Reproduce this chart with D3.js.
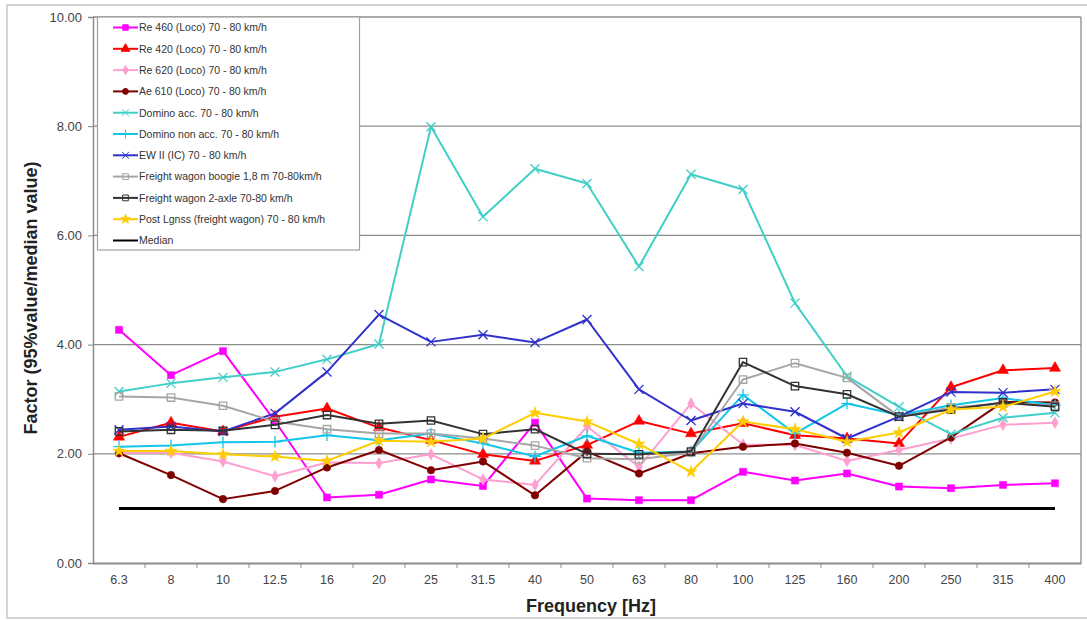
<!DOCTYPE html>
<html><head><meta charset="utf-8">
<script src="https://cdn.jsdelivr.net/npm/d3@7"></script>
<style>body{margin:0;background:#fff;}svg{display:block;font-family:"Liberation Sans",Arial,sans-serif;}</style>
</head><body><svg id="c" width="1087" height="621"></svg>
<script>
const categories = ["6.3","8","10","12.5","16","20","25","31.5","40","50","63","80","100","125","160","200","250","315","400"];
const yTicks = [0,2,4,6,8,10];
const re460   = [4.27,3.44,3.88,2.60,1.20,1.25,1.53,1.41,2.57,1.18,1.15,1.15,1.67,1.51,1.64,1.40,1.37,1.43,1.46];
const re420   = [2.31,2.57,2.41,2.68,2.83,2.48,2.25,1.99,1.87,2.16,2.60,2.37,2.56,2.34,2.28,2.19,3.22,3.53,3.57];
const re620   = [2.02,2.02,1.86,1.59,1.84,1.83,1.99,1.53,1.43,2.50,1.76,2.92,2.17,2.16,1.87,2.07,2.28,2.53,2.57];
const ae610   = [2.01,1.61,1.17,1.32,1.75,2.07,1.70,1.86,1.24,2.04,1.64,2.01,2.13,2.19,2.02,1.78,2.30,2.95,2.94];
const dominoAcc = [3.14,3.29,3.40,3.50,3.73,4.01,7.99,6.34,7.22,6.95,5.43,7.12,6.84,4.76,3.42,2.86,2.36,2.66,2.75];
const dominoNon = [2.13,2.15,2.21,2.22,2.34,2.25,2.37,2.19,1.95,2.33,2.02,2.04,3.08,2.37,2.92,2.71,2.89,3.02,2.89];
const ew2     = [2.44,2.50,2.41,2.74,3.50,4.55,4.05,4.18,4.04,4.46,3.18,2.61,2.92,2.77,2.28,2.68,3.13,3.12,3.18];
const boogie  = [3.05,3.03,2.88,2.59,2.45,2.37,2.37,2.28,2.15,1.92,1.90,2.02,3.36,3.66,3.39,2.68,2.85,2.92,2.88];
const twoAxle = [2.41,2.44,2.42,2.53,2.71,2.55,2.61,2.36,2.45,2.00,1.99,2.04,3.68,3.24,3.09,2.68,2.81,2.94,2.86];
const postLg  = [2.05,2.05,1.99,1.95,1.87,2.24,2.22,2.28,2.75,2.59,2.18,1.67,2.59,2.45,2.22,2.39,2.81,2.86,3.14];
const median  = categories.map(() => 1.00);

const seriesNames = ["Re 460 (Loco) 70 - 80 km/h","Re 420 (Loco) 70 - 80 km/h","Re 620 (Loco) 70 - 80 km/h","Ae 610 (Loco) 70 - 80 km/h","Domino acc. 70 - 80 km/h","Domino non acc. 70 - 80 km/h","EW II (IC) 70 - 80 km/h","Freight wagon boogie 1,8 m 70-80km/h","Freight wagon 2-axle 70-80 km/h","Post Lgnss (freight wagon) 70 - 80 km/h","Median"];
const seriesValues = [re460,re420,re620,ae610,dominoAcc,dominoNon,ew2,boogie,twoAxle,postLg,median];
const seriesColors = ["#ff00ff","#ff0000","#ff9fd0","#800000","#40cfc8","#12c6ea","#3030cc","#a6a6a6","#333333","#ffcc00","#000000"];
const seriesMarkers = ["square","triangle","diamond","circle","times","plus","times","square2","square2","star","none"];

const svg = d3.select("#c");
const L=93, R=1081, T=17, B=563;
const x = d3.scaleBand().domain(categories).range([L,R]).padding(0);
const y = d3.scaleLinear().domain([0,10]).range([B,T]);
const cx = c => x(c) + x.bandwidth()/2;

// outer frame
svg.append("rect").attr("x",7).attr("y",5).attr("width",1095).attr("height",613).attr("fill","none").attr("stroke","#c8c8c8").attr("stroke-width",1.5);

// gridlines
svg.append("g").selectAll("line").data(yTicks.filter(d=>d>0)).join("line")
  .attr("x1",L).attr("x2",R).attr("y1",d=>y(d)).attr("y2",d=>y(d))
  .attr("stroke","#8c8c8c").attr("stroke-width",1.3);
// right border
svg.append("line").attr("x1",R).attr("x2",R).attr("y1",T).attr("y2",B).attr("stroke","#8c8c8c").attr("stroke-width",1.3);

// y axis
const ya = svg.append("g").attr("transform",`translate(${L},0)`)
  .call(d3.axisLeft(y).tickValues(yTicks).tickFormat(d3.format(".2f")).tickSize(5).tickPadding(6));
ya.select(".domain").attr("stroke","#8c8c8c").attr("stroke-width",1.5);
ya.selectAll(".tick line").attr("stroke","#8c8c8c");
ya.selectAll("text").attr("font-size",13).attr("fill","#444").attr("font-family","Liberation Sans, Arial, sans-serif");

// x axis
const xa = svg.append("g").attr("transform",`translate(0,${B})`)
  .call(d3.axisBottom(x).tickSize(0).tickPadding(12));
xa.select(".domain").attr("stroke","#8c8c8c").attr("stroke-width",2);
xa.selectAll("text").attr("font-size",12.5).attr("fill","#444").attr("font-family","Liberation Sans, Arial, sans-serif");
// band boundary ticks
svg.append("g").selectAll("line").data(categories.slice(1)).join("line")
  .attr("x1",d=>x(d)).attr("x2",d=>x(d)).attr("y1",B).attr("y2",B+5)
  .attr("stroke","#8c8c8c").attr("stroke-width",1);

// titles
svg.append("text").attr("x",591).attr("y",612).attr("text-anchor","middle")
  .attr("font-size",18).attr("font-weight","bold").attr("fill","#222").text("Frequency [Hz]");
svg.append("text").attr("transform","translate(37,298) rotate(-90)").attr("text-anchor","middle")
  .attr("font-size",18).attr("font-weight","bold").attr("fill","#222").text("Factor (95%value/median value)");

function symType(m){
  return {square:d3.symbolSquare,triangle:d3.symbolTriangle,diamond:d3.symbolDiamond,circle:d3.symbolCircle,
    times:d3.symbolTimes||d3.symbolCross,plus:d3.symbolPlus||d3.symbolCross,square2:d3.symbolSquare2||d3.symbolSquare,star:d3.symbolStar}[m];
}
const symSize = {square:50,triangle:55,diamond:40,circle:45,times:55,plus:45,square2:70,star:45};
const filled = {square:true,triangle:true,diamond:true,circle:true,times:false,plus:false,square2:false,star:true};

const line = d3.line().x((d,i)=>cx(categories[i])).y(d=>y(d));
seriesValues.forEach((vals,si)=>{
  const g = svg.append("g");
  const col = seriesColors[si];
  g.append("path").datum(vals).attr("d",line).attr("fill","none").attr("stroke",col)
    .attr("stroke-width", si===10?3:2).attr("stroke-linejoin","round");
  const m = seriesMarkers[si];
  if(m!=="none"){
    g.selectAll("path.m").data(vals).join("path").attr("class","m")
      .attr("transform",(d,i)=>`translate(${cx(categories[i])},${y(d)})`)
      .attr("d",d3.symbol().type(symType(m)).size(symSize[m]))
      .attr("fill",filled[m]?col:"none").attr("stroke",col).attr("stroke-width",filled[m]?0.5:1.3);
  }
});

// legend
const lg = svg.append("g");
lg.append("rect").attr("x",97.5).attr("y",T).attr("width",262).attr("height",233)
  .attr("fill","#fff").attr("stroke","#a0a0a0").attr("stroke-width",1.2);
seriesNames.forEach((nm,i)=>{
  const yy = 27.5 + i*21.3;
  const col = seriesColors[i];
  lg.append("line").attr("x1",113).attr("x2",138).attr("y1",yy).attr("y2",yy).attr("stroke",col).attr("stroke-width",2);
  const m = seriesMarkers[i];
  if(m!=="none"){
    lg.append("path").attr("transform",`translate(125.5,${yy})`)
      .attr("d",d3.symbol().type(symType(m)).size(symSize[m]*0.6))
      .attr("fill",filled[m]?col:"none").attr("stroke",col).attr("stroke-width",1);
  }
  lg.append("text").attr("x",139).attr("y",yy+3.8).attr("font-size",10.5).attr("fill","#333").text(nm);
});
</script></body></html>
